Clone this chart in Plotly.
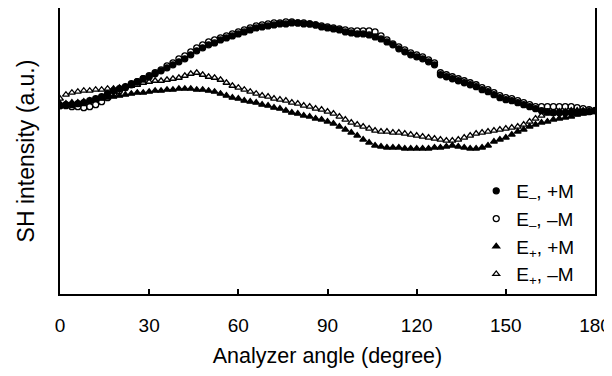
import plotly.graph_objects as go

angle = list(range(0, 181, 2))

e_minus_plus_m = [189, 190, 190, 191, 192, 194, 196, 198, 201, 204, 206, 208, 211, 213, 216, 218, 221, 224, 227, 230,
                  233, 236, 240, 244, 247, 250, 252, 255, 257, 259, 261, 263, 265, 267, 268, 269, 270, 271, 271, 272,
                  272, 271, 271, 270, 268, 267, 266, 265, 263, 262, 261, 261, 260, 258, 256, 253, 250, 246, 243, 240,
                  238, 236, 233, 230, 220, 218, 216, 214, 212, 210, 208, 205, 203, 200, 197, 195, 194, 192, 190, 188,
                  186, 184, 183, 182, 182, 182, 182, 182, 183, 183, 184]

e_minus_minus_m = [189, 189, 188, 188, 187, 188, 190, 193, 197, 201, 204, 207, 210, 213, 216, 219, 222, 225, 229, 232,
                   236, 239, 243, 247, 250, 253, 255, 257, 259, 261, 263, 265, 267, 269, 270, 271, 272, 272, 273, 273,
                   272, 272, 271, 270, 269, 268, 267, 266, 265, 264, 264, 264, 264, 263, 259, 255, 251, 248, 245, 242,
                   240, 238, 235, 232, 222, 220, 218, 216, 214, 212, 210, 207, 205, 202, 199, 197, 196, 194, 192, 190,
                   188, 188, 188, 188, 188, 188, 188, 187, 186, 185, 184]

e_plus_plus_m = [191, 191, 192, 192, 193, 194, 195, 196, 197, 198, 199, 200, 201, 202, 202, 203, 204, 204, 205, 205,
                 206, 206, 206, 205, 205, 204, 203, 201, 199, 197, 196, 194, 193, 192, 190, 189, 187, 186, 184, 182,
                 181, 179, 178, 176, 175, 173, 171, 168, 165, 162, 159, 155, 152, 149, 148, 147, 147, 147, 146, 146,
                 146, 146, 146, 147, 147, 148, 149, 148, 147, 146, 146, 147, 149, 153, 155, 157, 160, 163, 165, 168,
                 170, 172, 173, 175, 176, 177, 178, 180, 181, 182, 183]

e_plus_minus_m = [196, 200, 202, 203, 204, 204, 205, 205, 206, 206, 207, 208, 209, 210, 212, 213, 214, 214, 215, 216,
                  217, 219, 221, 222, 220, 218, 217, 215, 212, 209, 207, 205, 203, 201, 199, 198, 196, 195, 194, 192,
                  191, 189, 188, 186, 185, 183, 181, 178, 175, 172, 170, 168, 166, 164, 163, 163, 162, 162, 161, 160,
                  159, 158, 157, 156, 155, 154, 154, 155, 157, 159, 161, 162, 163, 164, 165, 166, 167, 168, 170, 173,
                  176, 179, 181, 182, 183, 183, 184, 184, 184, 184, 184]

x_ticks = [0, 30, 60, 90, 120, 150, 180]

series = [
    ("E<sub>\u2013</sub>, +M", e_minus_plus_m, "circle"),
    ("E<sub>\u2013</sub>, \u2013M", e_minus_minus_m, "circle-open"),
    ("E<sub>+</sub>, +M", e_plus_plus_m, "triangle-up"),
    ("E<sub>+</sub>, \u2013M", e_plus_minus_m, "triangle-up-open"),
]

fig = go.Figure()
for i, (name, vals, sym) in enumerate(series):
    fig.add_trace(go.Scatter(
        x=angle, y=vals, mode="markers", name=name, legendgroup=str(i),
        marker=dict(symbol=sym, size=6, color="black", line=dict(color="black", width=1.3)),
    ))

# page body adds an 8px margin, so the figure is sized to fit the window without a vertical scrollbar
fig.update_layout(
    width=604, height=360,
    margin=dict(l=52, r=17, t=0, b=74, autoexpand=False),
    paper_bgcolor="white", plot_bgcolor="white",
    font=dict(family="Liberation Sans, Arial, sans-serif", size=18, color="black"),
    showlegend=True,
    legend=dict(x=0.778, y=0.4266, xanchor="left", yanchor="top", bgcolor="rgba(0,0,0,0)",
                font=dict(size=19), tracegroupgap=0, itemwidth=30),
)
fig.update_xaxes(
    range=[0, 180], tickvals=x_ticks, ticktext=[str(t) for t in x_ticks],
    ticks="inside", ticklen=5, tickwidth=1.5, tickcolor="black",
    showline=True, linecolor="black", linewidth=2, mirror=True,
    showgrid=False, zeroline=False, ticklabelstandoff=13, automargin=False,
    ticklabeloverflow="allow",
    tickfont=dict(size=19),
    title=dict(text="Analyzer angle (degree)", font=dict(size=21.5), standoff=20),
)
fig.update_yaxes(
    range=[0, 287], showticklabels=False, ticks="",
    showline=True, linecolor="black", linewidth=2, mirror=True,
    showgrid=False, zeroline=False, automargin=False,
    title=dict(text="SH intensity (a.u.)", font=dict(size=23), standoff=17),
)

fig.write_html("out.html")
